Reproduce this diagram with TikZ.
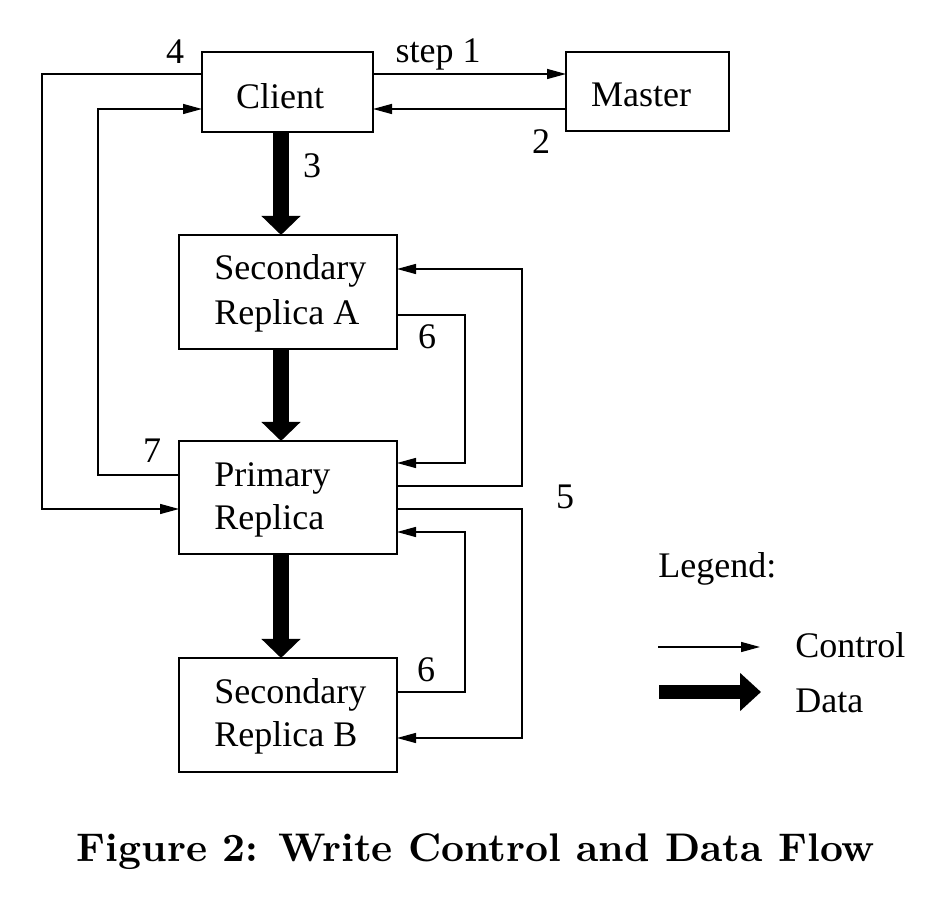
\documentclass[tikz,border=0pt]{standalone}
\usepackage{fontspec}
\usepackage{graphicx}
\newfontfamily\tms{Liberation Serif}
\usetikzlibrary{arrows.meta,fit}
\begin{document}
\begin{tikzpicture}[x=0.5pt,y=-0.5pt,
  box/.style={draw,line width=0.7pt,inner sep=0pt,outer sep=0pt,rectangle},
  ctl/.style={line width=0.7pt,-{Triangle[length=9.5pt,width=5pt]}},
  dat/.style={line width=8pt,-{Triangle[length=9.5pt,width=19pt]}},
  txt/.style={inner sep=0pt,font=\tms\fontsize{18}{22}\selectfont},
]
\useasboundingbox (0,0) rectangle (944,908);
% boxes
\node[box,fit={(202,52) (373,132)}] (client) {};
\node[box,fit={(566,52) (729,131)}] (master) {};
\node[box,fit={(179,235) (397,349)}] (secA) {};
\node[box,fit={(179,441) (397,554)}] (primary) {};
\node[box,fit={(179,658) (397,772)}] (secB) {};
% box texts
\node[txt,anchor=base] (tclient) at (280,109) {Client};
\node[txt,anchor=base] (tmaster) at (641,107) {Master};
\node[txt,anchor=base west] (ta1) at (214,280) {Secondary};
\node[txt,anchor=base west] (ta2) at (214,325) {Replica A};
\node[txt,anchor=base west] (tp1) at (214,487) {Primary};
\node[txt,anchor=base west] (tp2) at (214,530) {Replica};
\node[txt,anchor=base west] (tb1) at (214,704) {Secondary};
\node[txt,anchor=base west] (tb2) at (214,747) {Replica B};
% data flow
\coordinate (dx) at (281,0);
\draw[dat] (client.south -| dx) -- (secA.north -| dx);
\draw[dat] (secA.south -| dx) -- (primary.north -| dx);
\draw[dat] (primary.south -| dx) -- (secB.north -| dx);
% control flow
\draw[ctl] (client.east |- 0,74) -- (master.west |- 0,74);
\draw[ctl] (master.west |- 0,109) -- (client.east |- 0,109);
\draw[ctl] (client.west |- 0,74) -- (42,74) -- (42,509) -- (primary.west |- 0,509);
\draw[ctl] (primary.west |- 0,475) -- (98,475) -- (98,109) -- (client.west |- 0,109);
\draw[ctl] (primary.east |- 0,486) -- (522,486) -- (522,269) -- (secA.east |- 0,269);
\draw[ctl] (primary.east |- 0,509) -- (522,509) -- (522,738) -- (secB.east |- 0,738);
\draw[ctl] (secA.east |- 0,315) -- (465,315) -- (465,463) -- (primary.east |- 0,463);
\draw[ctl] (secB.east |- 0,692) -- (465,692) -- (465,532) -- (primary.east |- 0,532);
% step labels
\node[txt,anchor=base] (lstep1) at (438,63) {step 1};
\node[txt,anchor=base] (l2) at (541,154) {2};
\node[txt,anchor=base] (l3) at (312,178) {3};
\node[txt,anchor=base] (l4) at (175,64) {4};
\node[txt,anchor=base] (l6a) at (427,349) {6};
\node[txt,anchor=base] (l7) at (152,463) {7};
\node[txt,anchor=base] (l5) at (565,509) {5};
\node[txt,anchor=base] (l6b) at (426,682) {6};
% legend
\node[txt,anchor=base west] (legend) at (658,578) {Legend:};
\coordinate (lc1) at (658,647);
\coordinate (lc2) at (760,647);
\draw[ctl] (lc1) -- (lc2);
\coordinate (ld1) at (659,692);
\coordinate (ld2) at (761,692);
\draw[line width=7pt,-{Triangle[length=10.5pt,width=18.5pt]}] (ld1) -- (ld2);
\node[txt,anchor=base west] (lcontrol) at (795,658) {Control};
\node[txt,anchor=base west] (ldata) at (795,713) {Data};
% caption
\node[inner sep=0pt,anchor=base] (caption) at (476,862) {\resizebox{399pt}{!}{\bfseries Figure 2: Write Control and Data Flow}};
\end{tikzpicture}
\end{document}
